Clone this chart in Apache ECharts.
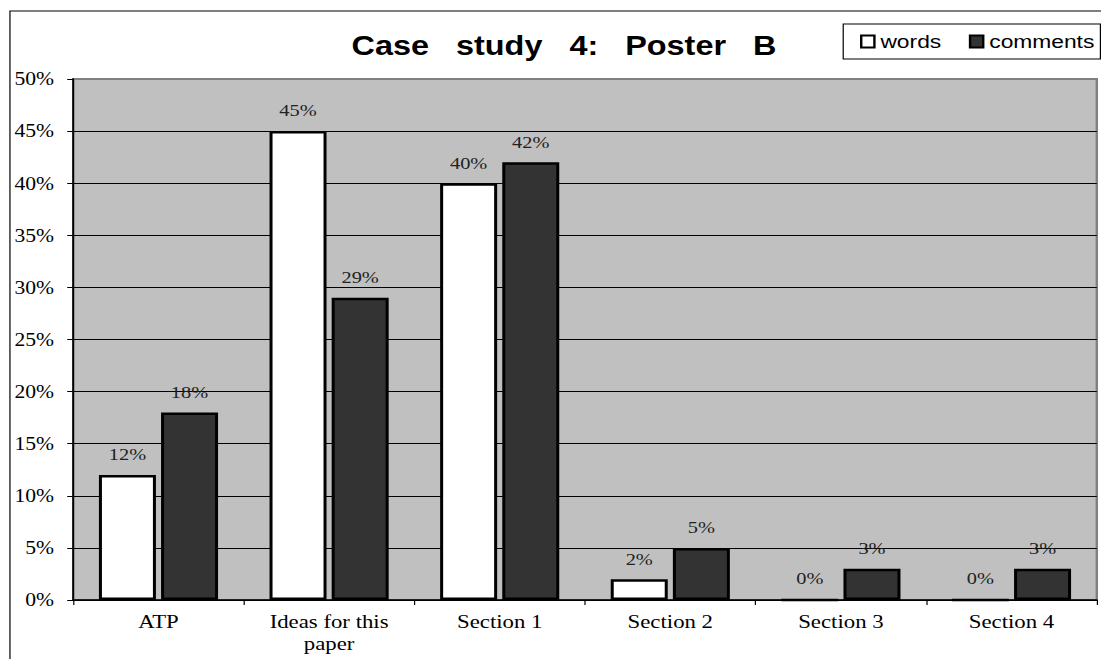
<!DOCTYPE html>
<html>
<head>
<meta charset="utf-8">
<title>Case study 4: Poster B</title>
<script src="https://cdn.jsdelivr.net/npm/echarts@6/dist/echarts.min.js"></script>
<style>
  html, body { margin: 0; padding: 0; background: #fff; overflow: hidden; }
  /* The chart is laid out on a narrower canvas and widened, giving the wide lettering of the poster figure */
  #chart { width: 918px; height: 659px; transform: scaleX(1.2); transform-origin: 0 0; }
</style>
</head>
<body>
<div id="chart"></div>
<script>
// Share of each poster region, in percent
const categories = ['ATP', 'Ideas for this\npaper', 'Section 1', 'Section 2', 'Section 3', 'Section 4'];
const seriesNames = ['words', 'comments'];
const wordsShare = [12, 45, 40, 2, 0, 0];
const commentsShare = [18, 29, 42, 5, 3, 3];
const yTickStep = 5;
const yMax = 50;

const chart = echarts.init(document.getElementById('chart'), null, { renderer: 'svg' });

const barLabel = {
  show: true,
  position: 'top',
  distance: 12,
  fontFamily: 'Liberation Serif',
  fontSize: 17,
  color: '#222',
  formatter: p => p.value + '%'
};

chart.setOption({
  animation: false,
  backgroundColor: '#fff',
  title: {
    text: 'Case   study   4:   Poster   B',
    left: 293,
    top: 32,
    padding: 0,
    textStyle: { fontFamily: 'Liberation Sans', fontWeight: 'bold', fontSize: 27, color: '#000' }
  },
  legend: {
    data: seriesNames,
    orient: 'horizontal',
    right: 1,
    top: 24,
    padding: [8, 5, 8, 14],
    itemGap: 23,
    itemWidth: 11,
    itemHeight: 12,
    backgroundColor: '#fff',
    borderColor: '#000',
    borderWidth: 1,
    borderRadius: 0,
    icon: 'rect',
    itemStyle: { borderColor: '#000', borderWidth: 2 },
    textStyle: { fontFamily: 'Liberation Sans', fontSize: 19, color: '#000' }
  },
  graphic: [{
    type: 'rect',
    shape: { x: 8.3, y: 11, width: 2000, height: 2000 },
    style: { fill: 'none', stroke: '#000', lineWidth: 1 },
    silent: true,
    z: 100
  }],
  grid: {
    left: 61,
    right: 4,
    top: 79,
    bottom: 59,
    show: true,
    backgroundColor: '#c0c0c0',
    borderColor: '#808080',
    borderWidth: 2
  },
  xAxis: {
    type: 'category',
    data: categories,
    axisLine: { lineStyle: { color: '#000', width: 1.5 } },
    axisTick: { show: true, length: 5, lineStyle: { color: '#000', width: 1 } },
    axisLabel: {
      margin: 11,
      interval: 0,
      fontFamily: 'Liberation Serif',
      fontSize: 19,
      lineHeight: 22,
      color: '#000'
    },
    splitLine: { show: false }
  },
  yAxis: {
    type: 'value',
    min: 0,
    max: yMax,
    interval: yTickStep,
    axisLine: { show: true, lineStyle: { color: '#000', width: 1.5 } },
    axisTick: { show: true, length: 5, lineStyle: { color: '#000', width: 1 } },
    axisLabel: {
      margin: 16,
      formatter: '{value}%',
      fontFamily: 'Liberation Serif',
      fontSize: 18,
      color: '#000'
    },
    splitLine: { show: true, showMaxLine: false, lineStyle: { color: '#000', width: 1 } }
  },
  series: [
    {
      name: seriesNames[0],
      type: 'bar',
      data: wordsShare,
      barWidth: 47.5,
      barGap: '9%',
      itemStyle: { color: '#fff', borderColor: '#000', borderWidth: 2.5 },
      label: barLabel
    },
    {
      name: seriesNames[1],
      type: 'bar',
      data: commentsShare,
      barWidth: 47.5,
      barGap: '9%',
      itemStyle: { color: '#333', borderColor: '#000', borderWidth: 2.5 },
      label: barLabel
    }
  ]
});
</script>
</body>
</html>
